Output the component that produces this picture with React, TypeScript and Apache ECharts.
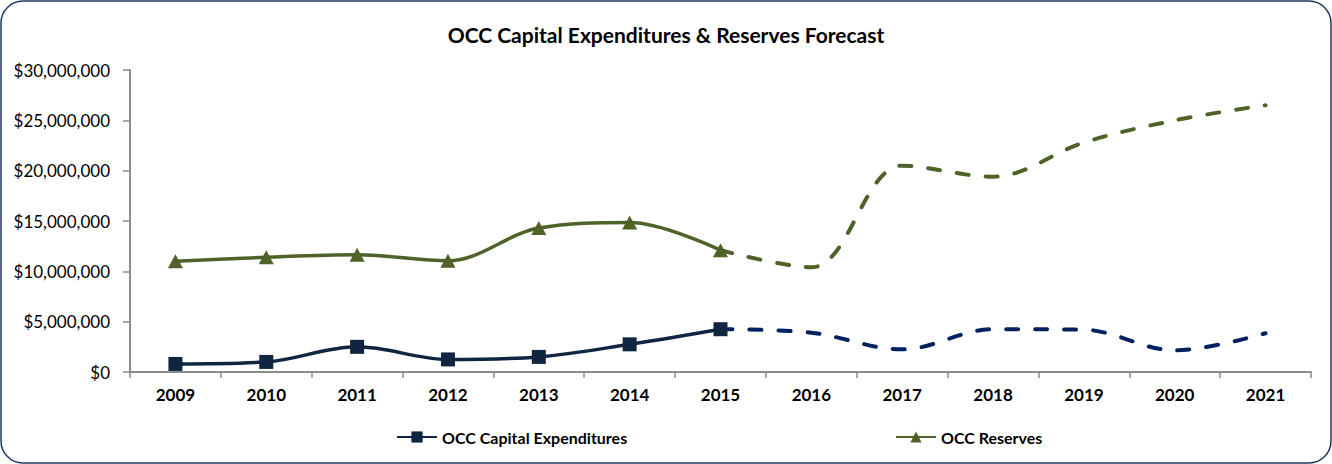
import React, { useEffect, useRef } from "react";
import * as echarts from "echarts";

const years = ["2009", "2010", "2011", "2012", "2013", "2014", "2015", "2016", "2017", "2018", "2019", "2020", "2021"];
const capexActual = [800000, 1000000, 2500000, 1250000, 1500000, 2750000, 4250000, null, null, null, null, null, null];
const capexForecast = [null, null, null, null, null, null, 4250000, 3900000, 2250000, 4250000, 4200000, 2150000, 3850000];
const reservesActual = [11000000, 11400000, 11650000, 11050000, 14300000, 14850000, 12100000, null, null, null, null, null, null];
const reservesForecast = [null, null, null, null, null, null, 12100000, 10400000, 20500000, 19400000, 22800000, 25000000, 26500000];

const FONT = "Lato";

export default function App() {
  const ref = useRef<HTMLDivElement>(null);
  useEffect(() => {
    document.body.style.margin = "0";
    const chart = echarts.init(ref.current!, null, { renderer: "svg" });
    const legendText = { fontFamily: FONT, fontWeight: "bold", fontSize: 16, color: "#000" };
    chart.setOption({
      animation: false,
      backgroundColor: "#ffffff",
      textStyle: { fontFamily: FONT },
      title: {
        text: "OCC Capital Expenditures & Reserves Forecast",
        left: "center",
        top: 19,
        textStyle: { fontFamily: FONT, fontWeight: "bold", fontSize: 21, color: "#000" },
      },
      graphic: [
        {
          type: "rect",
          shape: { x: 1, y: 1, width: 1330, height: 462, r: 22 },
          style: { fill: "none", stroke: "#1F3864", lineWidth: 1.5 },
          silent: true,
        },
      ],
      legend: [
        {
          data: ["OCC Capital Expenditures"],
          left: 391,
          top: 424,
          itemWidth: 40,
          itemHeight: 14,
          textStyle: legendText,
        },
        {
          data: ["OCC Reserves"],
          left: 890,
          top: 424,
          itemWidth: 40,
          itemHeight: 14,
          textStyle: legendText,
        },
      ],
      grid: { left: 130, right: 21, top: 70, bottom: 92 },
      xAxis: {
        type: "category",
        data: years,
        boundaryGap: true,
        axisLine: { lineStyle: { color: "#8C8C8C", width: 2 } },
        axisTick: { show: true, length: 6, lineStyle: { color: "#8C8C8C", width: 1.5 } },
        axisLabel: { fontFamily: FONT, fontWeight: "bold", fontSize: 17, color: "#000", margin: 14 },
        splitLine: { show: false },
      },
      yAxis: {
        type: "value",
        min: 0,
        max: 30000000,
        interval: 5000000,
        axisLine: { show: true, lineStyle: { color: "#8C8C8C", width: 2 } },
        axisTick: { show: true, length: 7, lineStyle: { color: "#8C8C8C", width: 1.5 } },
        axisLabel: {
          fontFamily: FONT,
          fontSize: 17,
          color: "#000",
          margin: 20,
          formatter: (v: number) => "$" + v.toLocaleString("en-US"),
        },
        splitLine: { show: false },
      },
      series: [
        {
          name: "OCC Capital Expenditures",
          type: "line",
          data: capexActual,
          smooth: 0.35,
          symbol: "rect",
          symbolSize: 14,
          itemStyle: { color: "#10253F" },
          lineStyle: { color: "#10253F", width: 3.5 },
          z: 3,
        },
        {
          name: "OCC Capital Expenditures Forecast",
          type: "line",
          data: capexForecast,
          smooth: 0.35,
          showSymbol: false,
          symbol: "none",
          lineStyle: { color: "#002060", width: 4, type: [12, 17], cap: "round" },
          z: 2,
        },
        {
          name: "OCC Reserves",
          type: "line",
          data: reservesActual,
          smooth: 0.35,
          symbol: "triangle",
          symbolSize: [15, 14],
          itemStyle: { color: "#4F6228" },
          lineStyle: { color: "#4F6228", width: 3.5 },
          z: 3,
        },
        {
          name: "OCC Reserves Forecast",
          type: "line",
          data: reservesForecast,
          smooth: 0.35,
          showSymbol: false,
          symbol: "none",
          lineStyle: { color: "#4F6228", width: 4, type: [12, 17], cap: "round" },
          z: 2,
        },
      ],
    });
    return () => chart.dispose();
  }, []);
  return <div ref={ref} style={{ width: 1332, height: 464 }} />;
}
